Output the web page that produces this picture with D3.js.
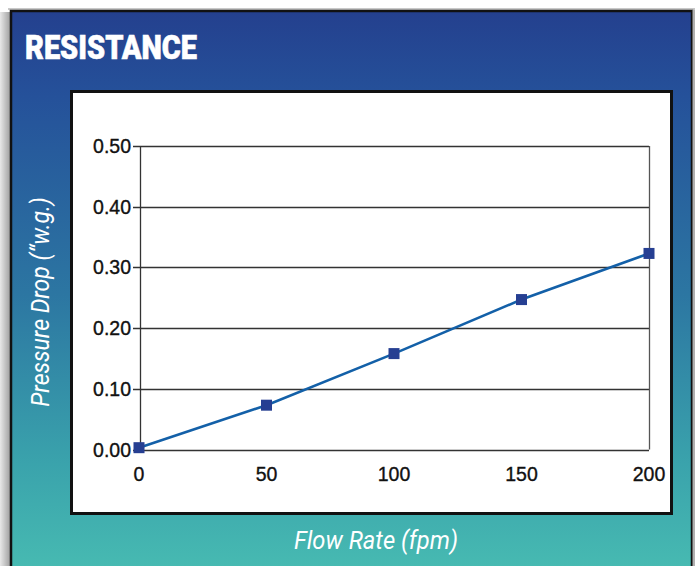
<!DOCTYPE html>
<html><head><meta charset="utf-8">
<script src="https://cdn.jsdelivr.net/npm/d3@7"></script>
<style>html,body{margin:0;padding:0;background:#fff;}svg{display:block;}</style>
</head><body>
<script>
const flowRates = [0, 50, 100, 150, 200];
const pressureDrop = [0.003, 0.073, 0.158, 0.247, 0.323];
const yTicks = [0, 0.1, 0.2, 0.3, 0.4, 0.5];
const xTicks = [0, 50, 100, 150, 200];
const title = "RESISTANCE";
const xTitle = "Flow Rate (fpm)";
const yTitle = "Pressure Drop (\u201Cw.g.)";

const W = 695, H = 566;
const svg = d3.select("body").append("svg").attr("width", W).attr("height", H);
const defs = svg.append("defs");
const grad = defs.append("linearGradient").attr("id","bg").attr("x1",0).attr("y1",0).attr("x2",0).attr("y2",1);
[[0,"#24408e"],[0.15,"#25519a"],[0.5,"#2c76a2"],[0.8,"#3aa3ac"],[1,"#48bcb2"]].forEach(([o,c])=>grad.append("stop").attr("offset",o).attr("stop-color",c));
const sh = defs.append("linearGradient").attr("id","sh").attr("x1",0).attr("y1",0).attr("x2",1).attr("y2",0);
sh.append("stop").attr("offset",0).attr("stop-color","#e8e8e8");
sh.append("stop").attr("offset",1).attr("stop-color","#9a9a9a");

svg.append("rect").attr("x",0).attr("y",12).attr("width",11).attr("height",H).attr("fill","url(#sh)");
svg.append("rect").attr("x",8).attr("y",8).attr("width",687).attr("height",2).attr("fill","#c8c8c8");
svg.append("rect").attr("x",11).attr("y",11).attr("width",681).attr("height",H).attr("fill","url(#bg)")
  .attr("stroke","#111").attr("stroke-width",2.5);
svg.append("rect").attr("x",692.5).attr("y",10).attr("width",2.5).attr("height",H).attr("fill","#b0b0b0");

svg.append("text").attr("x",25).attr("y",58.5).attr("fill","#fff")
  .attr("font-family","Roboto, 'Liberation Sans', sans-serif").attr("font-weight",900).attr("font-size",33)
  .attr("stroke","#fff").attr("stroke-width",0.6)
  .attr("textLength",172).attr("lengthAdjust","spacingAndGlyphs").text(title);

svg.append("rect").attr("x",71.5).attr("y",91.5).attr("width",600).attr("height",422)
  .attr("fill","#fff").attr("stroke","#111").attr("stroke-width",3);

const x = d3.scaleLinear().domain([0,200]).range([139,649]);
const y = d3.scaleLinear().domain([0,0.5]).range([449.5,146]);

const g = svg.append("g");
g.selectAll("line.grid").data(yTicks).join("line")
  .attr("x1",133).attr("x2",x(200)).attr("y1",d=>Math.round(y(d))+0.5).attr("y2",d=>Math.round(y(d))+0.5)
  .attr("stroke","#333").attr("stroke-width",1.3);
g.append("line").attr("x1",140.5).attr("x2",140.5).attr("y1",y(0.5)).attr("y2",y(0)).attr("stroke","#333").attr("stroke-width",1.3);
g.append("line").attr("x1",x(200)+0.5).attr("x2",x(200)+0.5).attr("y1",y(0.5)).attr("y2",y(0)).attr("stroke","#555").attr("stroke-width",1.3);

const font = "'Liberation Sans', Arial, sans-serif";
g.selectAll("text.yt").data(yTicks).join("text")
  .attr("x",131).attr("y",d=>y(d)+7).attr("text-anchor","end")
  .attr("font-family",font).attr("font-size",19.5).attr("fill","#111")
  .attr("stroke","#111").attr("stroke-width",0.35)
  .text(d=>d3.format(".2f")(d));
g.selectAll("text.xt").data(xTicks).join("text")
  .attr("x",d=>x(d)).attr("y",481).attr("text-anchor","middle")
  .attr("font-family",font).attr("font-size",19.5).attr("fill","#111")
  .attr("stroke","#111").attr("stroke-width",0.35)
  .text(d=>d);

const data = flowRates.map((f,i)=>({f, p: pressureDrop[i]}));
g.append("path").datum(data)
  .attr("d", d3.line().x(d=>x(d.f)).y(d=>y(d.p)))
  .attr("fill","none").attr("stroke","#1360a8").attr("stroke-width",2.6);
g.selectAll("rect.m").data(data).join("rect")
  .attr("x",d=>x(d.f)-5.5).attr("y",d=>y(d.p)-5.5).attr("width",11).attr("height",11)
  .attr("fill","#263f92");

svg.append("text").attr("transform","translate(49,302) rotate(-90) scale(0.92,1)")
  .attr("text-anchor","middle").attr("fill","#fff")
  .attr("font-family","Roboto, sans-serif").attr("font-style","italic").attr("font-size",25)
  .text(yTitle);
svg.append("text").attr("transform","translate(376,549) scale(0.95,1)")
  .attr("text-anchor","middle").attr("fill","#fff")
  .attr("font-family","Roboto, sans-serif").attr("font-style","italic").attr("font-size",25)
  .text(xTitle);
</script>
</body></html>
